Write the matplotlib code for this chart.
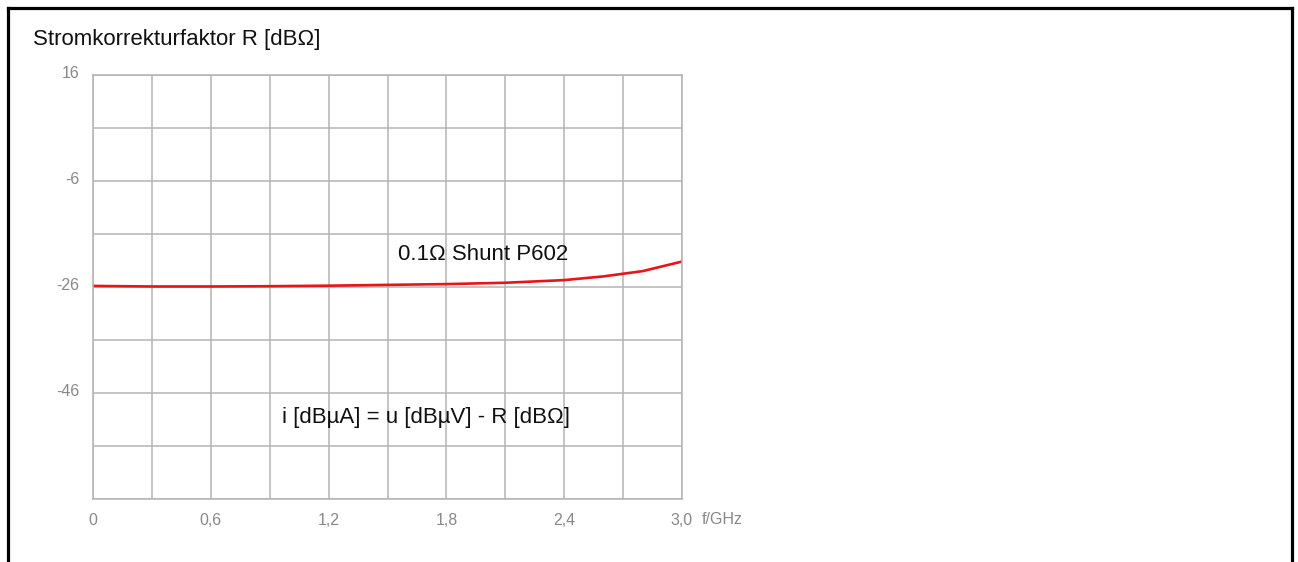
import numpy as np
import matplotlib
matplotlib.use("Agg")
import matplotlib.pyplot as plt
from matplotlib.lines import Line2D
from matplotlib.transforms import ScaledTranslation

plt.rcParams['font.family'] = ['Liberation Sans', 'DejaVu Sans']

# frequency in GHz and correction factor in dBOhm
freq = [0.0, 0.3, 0.6, 0.9, 1.2, 1.5, 1.8, 2.1, 2.4, 2.6, 2.8, 3.0]
factor = [-25.8, -25.9, -25.9, -25.85, -25.75, -25.6, -25.45, -25.2, -24.7, -24.0, -23.0, -21.2]

xticks = [0, 0.6, 1.2, 1.8, 2.4, 3.0]
xticklabels = ["0", "0,6", "1,2", "1,8", "2,4", "3,0"]
yticks = [14, -6, -26, -46]
yticklabels = ["16", "-6", "-26", "-46"]

grid_col = "#b4b4b4"
tick_col = "#888888"

fig = plt.figure(figsize=(12.98, 5.62), dpi=100)
ax = fig.add_axes([93/1298, 1 - 499/562, (682-93)/1298, (499-75)/562])

ax.plot(freq, factor, color="#e8141a", lw=1.9, solid_capstyle="butt")

ax.set_xlim(0, 3.0)
ax.set_ylim(-66, 14)
ax.set_xticks(np.arange(0, 3.01, 0.3), minor=True)
ax.set_yticks(np.arange(-66, 14.1, 10), minor=True)
ax.set_xticks(xticks)
ax.set_xticklabels(xticklabels)
ax.set_yticks(yticks)
ax.set_yticklabels(yticklabels)
ax.grid(True, which="both", color=grid_col, lw=1.1)
ax.set_axisbelow(True)
ax.tick_params(which="both", length=0, colors=tick_col, labelsize=11.5)
ax.tick_params(axis="x", pad=10)
ax.tick_params(axis="y", pad=10)
for s in ax.spines.values():
    s.set_color(grid_col)
    s.set_linewidth(1.1)
# y labels sit a little above their grid lines
shift = ScaledTranslation(0, 3/100, fig.dpi_scale_trans)
for lab in ax.get_yticklabels():
    lab.set_transform(lab.get_transform() + shift)

ax.text(1.553, -19.9, "0.1\u03a9 Shunt P602", fontsize=16, color="#111111",
        ha="left", va="center")
ax.text(0.963, -50.6, "i [dB\u00b5A] = u [dB\u00b5V] - R [dB\u03a9]", fontsize=16,
        color="#111111", ha="left", va="center")

fig.text(33/1298, 1 - 40/562, "Stromkorrekturfaktor R [dB\u03a9]", fontsize=16,
         color="#111111", ha="left", va="center")
fig.text(702/1298, 1 - 520/562, "f/GHz", fontsize=11.5, color=tick_col,
         ha="left", va="center")

# black frame around the picture (open at the bottom)
lw = 2.3
L, R, T = 8/1298, 1292/1298, 1 - 8/562
fig.add_artist(Line2D([L, L], [-0.1, T], color="black", lw=lw, transform=fig.transFigure))
fig.add_artist(Line2D([L, R], [T, T], color="black", lw=lw, transform=fig.transFigure))
fig.add_artist(Line2D([R, R], [-0.1, T], color="black", lw=lw, transform=fig.transFigure))

fig.savefig("out.png", dpi=100)
